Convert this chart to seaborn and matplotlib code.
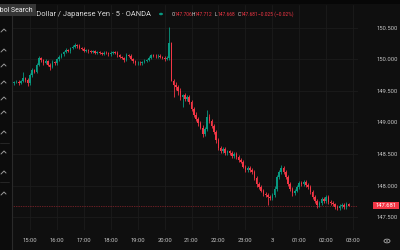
import matplotlib
matplotlib.use("Agg")
import matplotlib.pyplot as plt
import matplotlib.transforms as mtransforms
from matplotlib.patches import Rectangle, Circle
from matplotlib.lines import Line2D
import numpy as np
import seaborn as sns

# ---------------- data (USD/JPY, 5-minute candles, 14:25 -> 02:50) ----------------
closes = [
    149.64, 149.65, 149.63, 149.66, 149.70, 149.67, 149.62, 149.75, 149.83, 149.80,
    149.92, 150.02, 149.99, 149.95, 149.97, 149.92, 149.88, 149.96, 149.94, 150.00,
    150.04, 150.08, 150.12, 150.15, 150.14, 150.18, 150.20, 150.23, 150.22, 150.18,
    150.17, 150.14, 150.15, 150.13, 150.12, 150.13, 150.11, 150.12, 150.10, 150.09,
    150.11, 150.10, 150.08, 150.10, 150.12, 150.11, 150.07, 150.04, 150.02, 149.99,
    150.07, 150.06, 150.01, 149.97, 149.94, 149.95, 149.94, 149.96, 149.98, 149.99,
    150.03, 150.07, 150.06, 150.05, 150.06, 150.04, 150.03, 150.01, 150.02, 150.26,
    149.66, 149.60, 149.56, 149.50, 149.40, 149.43, 149.38, 149.40, 149.32, 149.22,
    149.12, 149.05, 148.99, 148.92, 148.82, 148.90, 149.09, 149.02, 148.94, 148.85,
    148.72, 148.60, 148.55, 148.58, 148.52, 148.54, 148.52, 148.47, 148.50, 148.45,
    148.40, 148.38, 148.30, 148.25, 148.28, 148.24, 148.22, 148.12, 148.02, 147.98,
    147.92, 147.86, 147.85, 147.82, 147.80, 147.85, 147.95, 148.13, 148.22, 148.28,
    148.22, 148.13, 148.02, 147.95, 147.88, 147.92, 147.98, 148.04, 148.03, 148.06,
    148.01, 147.98, 147.90, 147.82, 147.75, 147.69, 147.72, 147.78, 147.76, 147.82,
    147.74, 147.72, 147.70, 147.66, 147.64, 147.68, 147.69, 147.66, 147.706, 147.681,
]
first_open = 149.62
# wick lengths in 0.01 units
upper_wick = [
    2, 2, 3, 2, 10, 2, 3, 3, 4, 2,
    3, 4, 2, 2, 3, 2, 2, 3, 2, 2,
    3, 2, 2, 3, 2, 2, 3, 3, 2, 2,
    2, 3, 2, 2, 2, 2, 2, 2, 2, 2,
    2, 2, 2, 3, 2, 2, 2, 2, 2, 2,
    3, 2, 2, 2, 2, 2, 2, 2, 2, 2,
    3, 2, 2, 2, 2, 2, 2, 2, 3, 26,
    2, 3, 4, 3, 4, 3, 4, 3, 3, 4,
    3, 4, 3, 3, 4, 3, 11, 4, 3, 3,
    3, 4, 3, 3, 3, 3, 3, 3, 3, 3,
    3, 3, 3, 3, 3, 3, 3, 3, 3, 3,
    3, 3, 3, 3, 3, 3, 4, 4, 3, 5,
    3, 3, 3, 3, 3, 3, 3, 3, 3, 3,
    3, 3, 3, 3, 3, 3, 3, 3, 3, 3,
    3, 3, 3, 3, 3, 3, 3, 3, 3, 1,
]
lower_wick = [
    2, 2, 3, 2, 2, 3, 4, 3, 2, 2,
    2, 3, 3, 3, 2, 3, 4, 2, 2, 3,
    2, 2, 2, 2, 2, 3, 2, 2, 3, 2,
    2, 2, 2, 2, 2, 2, 2, 2, 2, 2,
    2, 2, 2, 2, 2, 2, 3, 2, 2, 3,
    2, 2, 2, 3, 2, 2, 2, 2, 2, 2,
    2, 2, 2, 2, 2, 2, 3, 3, 2, 3,
    0, 20, 4, 6, 5, 15, 4, 4, 3, 4,
    4, 3, 4, 3, 5, 4, 3, 3, 3, 4,
    4, 4, 3, 3, 3, 3, 3, 3, 3, 3,
    3, 3, 3, 3, 3, 3, 3, 3, 4, 3,
    3, 3, 3, 13, 3, 3, 3, 3, 3, 3,
    3, 3, 3, 3, 4, 3, 3, 3, 3, 3,
    3, 3, 3, 3, 3, 4, 3, 3, 3, 3,
    3, 3, 3, 4, 3, 3, 3, 3, 3, 1,
]
hour_ticks = [7, 19, 31, 43, 55, 67, 79, 91, 103, 115, 127, 139, 151]
hour_labels = ["15:00", "16:00", "17:00", "18:00", "19:00", "20:00", "21:00",
               "22:00", "23:00", "3", "01:00", "02:00", "03:00"]
price_ticks = [147.5, 148.0, 148.5, 149.0, 149.5, 150.0, 150.5]
last_price = 147.681
header_title = "U.S. Dollar / Japanese Yen · 5 · OANDA"
ohlc_labels = ["O", "H", "L", "C"]
ohlc_values = ["147.706", "147.712", "147.668", "147.681"]
change_text = "−0.025 (−0.02%)"

# ---------------- style ----------------
BG = "#0f0f0f"
GRID = "#1c1c1c"
TXT = "#c4c4c4"
UP = "#089981"
DN = "#f23645"

sns.set_theme(style="dark", rc={
    "axes.facecolor": BG, "figure.facecolor": BG,
    "axes.edgecolor": BG, "grid.color": GRID,
})
plt.rcParams["font.family"] = ["Roboto", "DejaVu Sans"]

fig = plt.figure(figsize=(4, 2.5), dpi=100)
ax = fig.add_axes([12 / 400, 20 / 250, 346 / 400, 225 / 250])
ax.set_facecolor(BG)

opens = [first_open] + closes[:-1]
x = np.arange(len(closes))
o = np.array(opens)
c = np.array(closes)
hi = np.maximum(o, c) + np.array(upper_wick) / 100.0
lo = np.minimum(o, c) - np.array(lower_wick) / 100.0
up = c >= o
cols = np.where(up, UP, DN)

ax.vlines(x, lo, hi, colors=cols, linewidth=0.6, zorder=3)
body = np.where(np.abs(c - o) < 0.008, 0.008, c - o)
ax.bar(x, body, bottom=o, width=0.7, color=cols, linewidth=0, zorder=4)

# current price line
ax.axhline(last_price, color=DN, linewidth=0.5, linestyle=(0, (1, 1.5)), alpha=0.8, zorder=2)

ax.set_xlim(-1.0, 153.2)
ax.set_ylim(147.2937, 150.865)
ax.set_xticks(hour_ticks)
ax.set_xticklabels(hour_labels)
ax.set_yticks(price_ticks)
ax.set_yticklabels([f"{p:.3f}" for p in price_ticks])
ax.yaxis.tick_right()
ax.tick_params(axis="y", length=0, pad=13.4, labelsize=4.2, labelcolor=TXT)
ax.tick_params(axis="x", length=0, pad=5.6, labelsize=4.2, labelcolor=TXT)
for lab in ax.get_yticklabels():
    lab.set_horizontalalignment("left")
ax.grid(True, color=GRID, linewidth=0.6)
for s in ax.spines.values():
    s.set_visible(False)

# last price tag
trans = mtransforms.blended_transform_factory(ax.transAxes, ax.transData)
ax.add_patch(Rectangle((1.0434, last_price - 0.0595), 0.0751, 0.119, transform=trans,
                       fc=DN, ec="none", clip_on=False, zorder=9))
ax.text(1.0434 + 0.0751 / 2, last_price, f"{last_price:.3f}", transform=trans, ha="center",
        va="center", fontsize=4.2, color="white", clip_on=False, zorder=10)

# ---------------- chrome (figure-pixel helpers) ----------------
def fx(px):
    return px / 400.0

def fy(py):
    return 1 - py / 250.0

# top strip and left toolbar
fig.patches.append(Rectangle((0, fy(4)), 1, 4 / 250, transform=fig.transFigure, fc="#070707", ec="none", zorder=0))
fig.patches.append(Rectangle((0, 0), fx(11.5), 1 - 4 / 250, transform=fig.transFigure, fc="#0c0c0c", ec="none", zorder=0))
fig.add_artist(Line2D([fx(12), fx(12)], [0, fy(4)], color="#2a2a2a", linewidth=0.8))

icon_y = [30, 50, 65, 82, 98, 112, 132, 152, 172, 193]
for iy in icon_y:
    fig.add_artist(Line2D([fx(1), fx(4), fx(6)], [fy(iy + 2), fy(iy - 1), fy(iy + 1)],
                          color="#9a9a9a", linewidth=0.7))
for sy in [143, 182]:
    fig.add_artist(Line2D([0, fx(9)], [fy(sy), fy(sy)], color="#2a2a2a", linewidth=0.6))

# header
fig.text(fx(151), fy(14), header_title, fontsize=5.4, color="#dcdcdc", va="center", ha="right")
fig.patches.append(Circle((fx(161), fy(14)), 2.0 / 400, transform=fig.transFigure,
                          fc=UP, ec="none"))
label_x = [172, 191.5, 214.5, 237.5]
value_x = [175, 194.5, 217.5, 240.5]
for lab, val, lx, vx in zip(ohlc_labels, ohlc_values, label_x, value_x):
    fig.text(fx(lx), fy(14), lab, fontsize=3.5, color="#dcdcdc", va="center", ha="left")
    fig.text(fx(vx), fy(14), val, fontsize=3.5, color=DN, va="center", ha="left")
fig.text(fx(258), fy(14), change_text, fontsize=3.5, color=DN, va="center", ha="left")

# Symbol Search tooltip
fig.text(fx(33), fy(10), "Symbol Search", fontsize=5.0, color="#f0f0f0", va="center", ha="right",
         zorder=20, bbox=dict(boxstyle="square,pad=0.4", fc="#363636", ec="none"))

# settings gear at bottom right
fig.patches.append(Circle((fx(387), fy(241)), 3 / 400, transform=fig.transFigure,
                          fc="none", ec="#b0b0b0", linewidth=0.6))
fig.patches.append(Circle((fx(387), fy(241)), 1 / 400, transform=fig.transFigure,
                          fc="#b0b0b0", ec="none"))

fig.savefig("out.png", dpi=100, facecolor=BG)
